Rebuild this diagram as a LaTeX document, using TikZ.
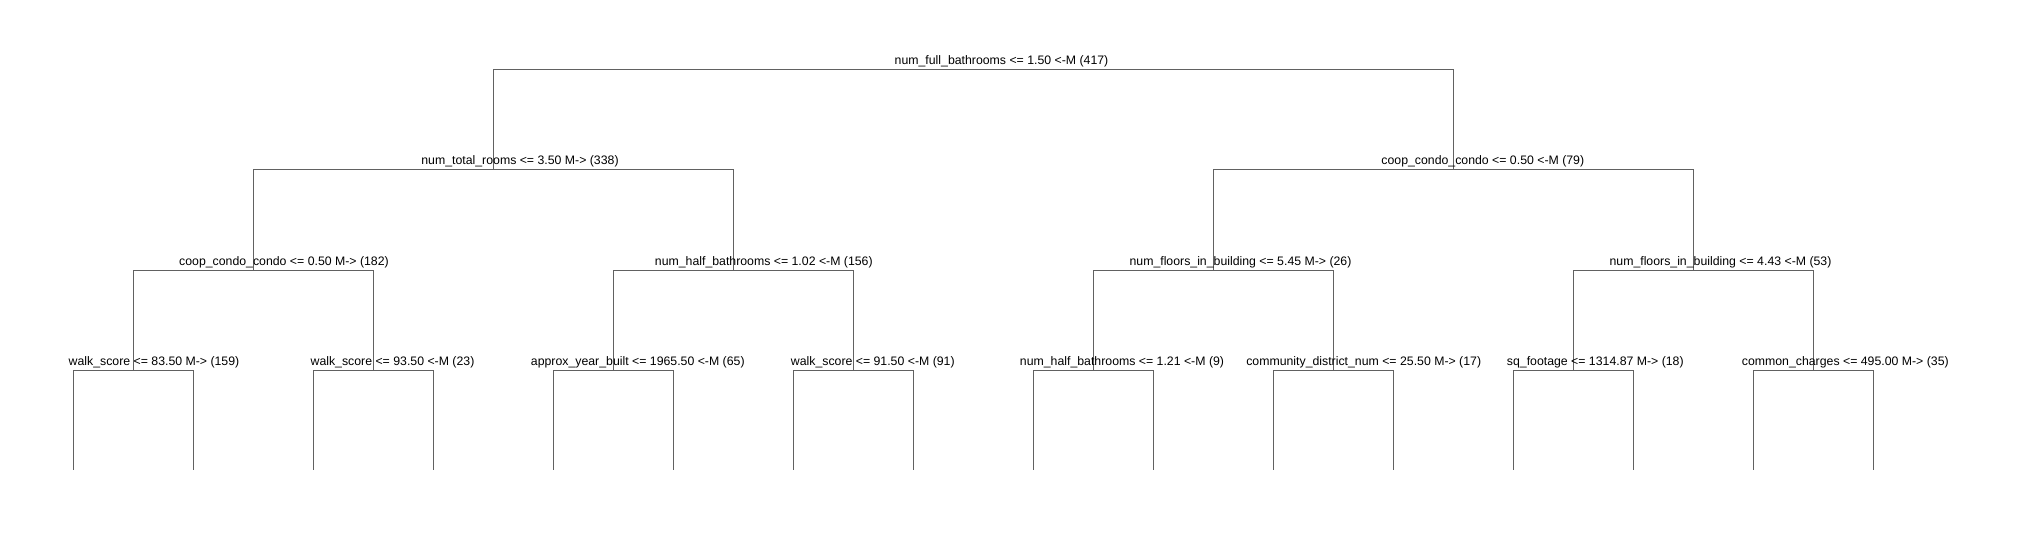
\documentclass[tikz,border=0pt]{standalone}
\usepackage{fontspec}
\setmainfont{Liberation Sans}
\begin{document}
\begin{tikzpicture}[x=1pt,y=-1pt,
  edge/.style={draw=black!62, line width=1pt},
  lab/.style={anchor=base, inner sep=0pt, font=\fontsize{12.3}{14}\selectfont}]
\useasboundingbox (0,0) rectangle (2017,540);
% split points
\coordinate (n0) at (973.3,70);
\coordinate (n1) at (493.3,170);
\coordinate (n2) at (1453.3,170);
\foreach \i in {0,...,3}{
  \pgfmathtruncatemacro\k{3+\i}
  \coordinate (n\k) at ({253.3+480*\i},270);
}
\foreach \i in {0,...,7}{
  \pgfmathtruncatemacro\k{7+\i}
  \coordinate (n\k) at ({133.3+240*\i},370);
}
\foreach \i in {0,...,15}{
  \coordinate (l\i) at ({73.3+120*\i},470);
}
% connectors
\foreach \p/\c in {0/1,0/2,1/3,1/4,2/5,2/6,3/7,3/8,4/9,4/10,5/11,5/12,6/13,6/14}{
  \draw[edge] (n\p) -| (n\c);
}
\foreach \i in {0,...,7}{
  \pgfmathtruncatemacro\p{7+\i}
  \pgfmathtruncatemacro\a{2*\i}
  \pgfmathtruncatemacro\b{2*\i+1}
  \draw[edge] (n\p) -| (l\a);
  \draw[edge] (n\p) -| (l\b);
}
% labels
\node[lab] (t0) at (1001.5,65) {num\_full\_bathrooms <= 1.50 <-M (417)};
\node[lab] (t1) at (520,165) {num\_total\_rooms <= 3.50 M-> (338)};
\node[lab] (t2) at (1482.8,165) {coop\_condo\_condo <= 0.50 <-M (79)};
\node[lab] (t3) at (284,265) {coop\_condo\_condo <= 0.50 M-> (182)};
\node[lab] (t4) at (763.8,265) {num\_half\_bathrooms <= 1.02 <-M (156)};
\node[lab] (t5) at (1240.5,265) {num\_floors\_in\_building <= 5.45 M-> (26)};
\node[lab] (t6) at (1720.5,265) {num\_floors\_in\_building <= 4.43 <-M (53)};
\node[lab] (t7) at (154,365) {walk\_score <= 83.50 M-> (159)};
\node[lab] (t8) at (392.5,365) {walk\_score <= 93.50 <-M (23)};
\node[lab] (t9) at (637.8,365) {approx\_year\_built <= 1965.50 <-M (65)};
\node[lab] (t10) at (872.8,365) {walk\_score <= 91.50 <-M (91)};
\node[lab] (t11) at (1122,365) {num\_half\_bathrooms <= 1.21 <-M (9)};
\node[lab] (t12) at (1363.7,365) {community\_district\_num <= 25.50 M-> (17)};
\node[lab] (t13) at (1595.3,365) {sq\_footage <= 1314.87 M-> (18)};
\node[lab] (t14) at (1845.3,365) {common\_charges <= 495.00 M-> (35)};
\end{tikzpicture}
\end{document}
